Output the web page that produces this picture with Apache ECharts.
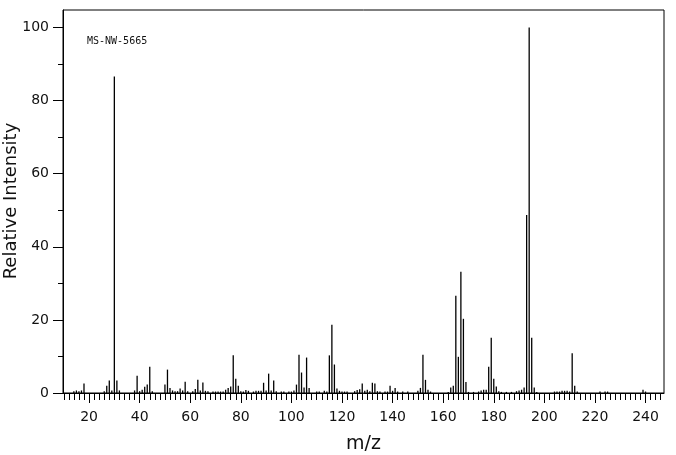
<!DOCTYPE html>
<html>
<head>
<meta charset="utf-8">
<script src="https://cdn.jsdelivr.net/npm/echarts@6/dist/echarts.min.js"></script>
<style>
  html, body { margin: 0; padding: 0; background: #fff; }
  #chart { width: 676px; height: 455px; }
</style>
</head>
<body>
<div id="chart"></div>
<script>
// m/z values and relative intensities
var mz = [14, 15, 16, 17, 18, 26, 27, 28, 29, 30, 31, 32, 38, 39, 40, 41, 42, 43, 44, 45,
  50, 51, 52, 53, 54, 55, 56, 57, 58, 59, 61, 62, 63, 64, 65, 66, 67, 69, 70, 71,
  72, 73, 74, 75, 76, 77, 78, 79, 80, 81, 82, 83, 85, 86, 87, 88, 89, 90, 91, 92,
  93, 94, 96, 97, 99, 100, 101, 102, 103, 104, 105, 106, 107, 110, 111, 113, 114, 115, 116, 117,
  118, 119, 120, 121, 122, 125, 126, 127, 128, 129, 130, 131, 132, 133, 134, 135, 137, 138, 139, 140,
  141, 142, 144, 146, 150, 151, 152, 153, 154, 155, 162, 163, 164, 165, 166, 167, 168, 169, 170, 172,
  174, 175, 176, 177, 178, 179, 180, 181, 182, 183, 185, 187, 189, 190, 191, 192, 193, 194, 195, 196,
  197, 204, 205, 206, 207, 208, 209, 210, 211, 212, 213, 222, 224, 225, 239, 240]
var intensity = [0.5, 0.7, 0.5, 0.7, 2.6, 0.5, 2.0, 3.4, 0.7, 86.6, 3.4, 0.7, 0.7, 4.7, 0.5, 0.9, 1.7, 2.3, 7.2, 0.5,
  2.3, 6.4, 1.4, 0.7, 0.5, 0.5, 1.2, 0.7, 3.1, 0.5, 0.5, 1.1, 3.6, 0.7, 2.9, 0.6, 0.5, 0.4, 0.4, 0.4,
  0.4, 0.4, 0.9, 1.4, 1.8, 10.3, 3.9, 2.0, 0.5, 0.4, 0.8, 0.6, 0.4, 0.6, 0.6, 0.6, 2.8, 0.7, 5.3, 0.7,
  3.4, 0.5, 0.4, 0.4, 0.4, 0.4, 0.7, 2.3, 10.5, 5.6, 1.5, 9.7, 1.4, 0.4, 0.4, 0.6, 0.4, 10.3, 18.7, 7.8,
  1.2, 0.6, 0.4, 0.4, 0.4, 0.5, 0.8, 1.0, 2.6, 0.6, 0.9, 0.5, 2.8, 2.6, 0.5, 0.4, 0.4, 0.4, 2.0, 0.6,
  1.4, 0.4, 0.4, 0.4, 0.6, 1.4, 10.5, 3.6, 0.9, 0.4, 0.3, 1.5, 2.0, 26.6, 9.9, 33.2, 20.3, 3.0, 0.3, 0.3,
  0.4, 0.7, 0.9, 0.9, 7.2, 15.1, 3.9, 1.8, 0.5, 0.3, 0.3, 0.3, 0.5, 0.7, 0.9, 1.5, 48.7, 100, 15.1, 1.5,
  0.3, 0.4, 0.4, 0.4, 0.6, 0.6, 0.6, 0.4, 10.9, 2.0, 0.4, 0.4, 0.4, 0.4, 0.9, 0.4]

var xMajorTicks = [20, 40, 60, 80, 100, 120, 140, 160, 180, 200, 220, 240]
var xMinorTicks = []
for (var t = 10; t <= 246; t += 2) xMinorTicks.push(t)
var yMajorTicks = [0, 20, 40, 60, 80, 100]
var yMinorTicks = [10, 30, 50, 70, 90]
var sampleId = 'MS-NW-5665'
var yTitle = 'Relative Intensity'

var chart = echarts.init(document.getElementById('chart'))
var labelFont = { color: '#111', fontFamily: 'DejaVu Sans', fontSize: 14 }

chart.setOption({
  animation: false,
  grid: {
    left: 63,
    right: 12,
    top: 10,
    bottom: 62,
    containLabel: false,
    outerBoundsMode: 'none',
    show: true,
    borderColor: '#000',
    borderWidth: 1
  },
  graphic: [{
    type: 'text',
    left: 87,
    top: 36,
    style: { text: sampleId, fill: '#111', font: '10px "DejaVu Sans Mono"' }
  }, {
    // y axis title, drawn by hand so v6 name placement doesn't push it off the page
    type: 'text',
    x: 11,
    y: 201,
    rotation: Math.PI / 2,
    style: {
      text: yTitle,
      fill: '#111',
      font: '18px "DejaVu Sans"',
      align: 'center',
      verticalAlign: 'middle'
    }
  }],
  xAxis: [{
    type: 'value',
    min: 9.7,
    max: 247.3,
    name: 'm/z',
    nameLocation: 'middle',
    nameGap: 42,
    nameTextStyle: { color: '#111', fontFamily: 'DejaVu Sans', fontSize: 19 },
    axisLine: { lineStyle: { color: '#000', width: 1 } },
    axisTick: { length: 10, customValues: xMajorTicks, lineStyle: { color: '#000' } },
    axisLabel: Object.assign({ margin: 17, customValues: xMajorTicks }, labelFont),
    splitLine: { show: false }
  }, {
    type: 'value',
    min: 9.7,
    max: 247.3,
    position: 'bottom',
    axisLine: { show: false },
    axisTick: { length: 7, customValues: xMinorTicks, lineStyle: { color: '#000' } },
    axisLabel: { show: false },
    splitLine: { show: false }
  }],
  yAxis: [{
    type: 'value',
    min: 0,
    max: 104.8,
    axisLine: { show: true, lineStyle: { color: '#000', width: 1 } },
    axisTick: { show: true, length: 10, customValues: yMajorTicks, lineStyle: { color: '#000' } },
    axisLabel: Object.assign({ margin: 14, customValues: yMajorTicks }, labelFont),
    splitLine: { show: false }
  }, {
    type: 'value',
    min: 0,
    max: 104.8,
    position: 'left',
    axisLine: { show: false },
    axisTick: { show: true, length: 5, customValues: yMinorTicks, lineStyle: { color: '#000' } },
    axisLabel: { show: false },
    splitLine: { show: false }
  }],
  series: [{
    type: 'bar',
    xAxisIndex: 0,
    yAxisIndex: 0,
    barWidth: 1.3,
    itemStyle: { color: '#000' },
    data: mz.map(function (m, i) { return [m, intensity[i]] })
  }]
})
</script>
</body>
</html>
